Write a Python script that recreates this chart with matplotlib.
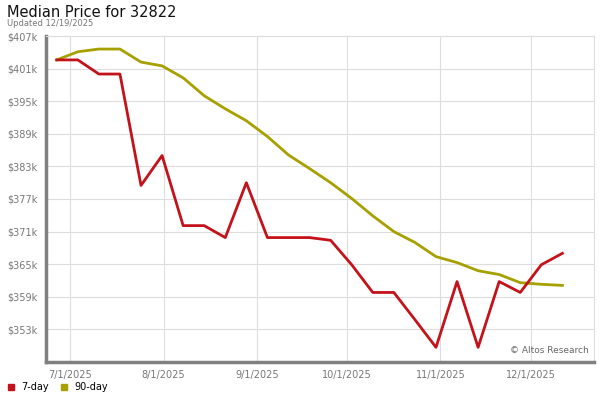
import numpy as np
import pandas as pd
import matplotlib
matplotlib.use('Agg')
import matplotlib.pyplot as plt
import matplotlib.dates as mdates

# weekly points, values in $k
dates = pd.date_range('2025-06-26 12:00', periods=25, freq='7D')
day7 = [402.6, 402.6, 400.0, 400.0, 379.5, 385.0, 372.1, 372.1, 369.9, 380.0,
        369.9, 369.9, 369.9, 369.4, 364.9, 359.8, 359.8, 354.8, 349.7, 361.8,
        349.7, 361.8, 359.8, 364.9, 367.0]
day90 = [402.6, 404.1, 404.6, 404.6, 402.2, 401.5, 399.3, 396.0, 393.6, 391.4,
         388.5, 385.1, 382.6, 380.0, 377.1, 373.9, 371.0, 369.0, 366.4, 365.3,
         363.8, 363.1, 361.6, 361.3, 361.1]
yticks = [353, 359, 365, 371, 377, 383, 389, 395, 401, 407]
xticks = ['2025-07-01', '2025-08-01', '2025-09-01', '2025-10-01', '2025-11-01', '2025-12-01']

red = '#c4121a'
olive = '#a6a000'
gray = '#777777'

fig = plt.figure(figsize=(6, 4), dpi=100)
ax = fig.add_axes([0.077, 0.095, 0.913, 0.815])

ax.plot(dates, day7, color=red, lw=2.0, label='7-day', zorder=3)
ax.plot(dates, day90, color=olive, lw=2.0, label='90-day', zorder=2)

ax.set_ylim(347, 407)
ax.set_yticks(yticks)
ax.set_yticklabels(['$%dk' % v for v in yticks])
ax.set_xlim(pd.Timestamp('2025-06-23'), pd.Timestamp('2025-12-22'))
ax.set_xticks(pd.to_datetime(xticks))
ax.xaxis.set_major_formatter(mdates.DateFormatter('%-m/%-d/%Y'))

ax.grid(True, color='#dddddd', lw=0.8)
ax.set_axisbelow(True)
ax.tick_params(length=0, labelsize=7, labelcolor=gray, pad=6)

for s in ['top', 'right']:
    ax.spines[s].set_color('#dddddd')
    ax.spines[s].set_linewidth(0.8)
for s in ['left', 'bottom']:
    ax.spines[s].set_color('#808080')
    ax.spines[s].set_linewidth(2.5)

ax.text(0.99, 0.02, '\u00a9 Altos Research', transform=ax.transAxes,
        ha='right', va='bottom', fontsize=6.5, color='#666666')

fig.text(0.012, 0.968, 'Median Price for 32822', fontsize=10.5, color='#111111', va='center')
fig.text(0.012, 0.94, 'Updated 12/19/2025', fontsize=6, color=gray, va='center')

leg = fig.legend(handles=ax.get_lines(), loc='lower left', bbox_to_anchor=(0.0, 0.0),
                 ncol=2, frameon=False, fontsize=7, handlelength=0.6, handleheight=0.6,
                 handletextpad=0.8, columnspacing=1.2, borderpad=0.3)
for h in leg.legend_handles:
    h.set_linestyle('')
    h.set_marker('s')
    h.set_markersize(5)

fig.savefig('out.png', dpi=100)
